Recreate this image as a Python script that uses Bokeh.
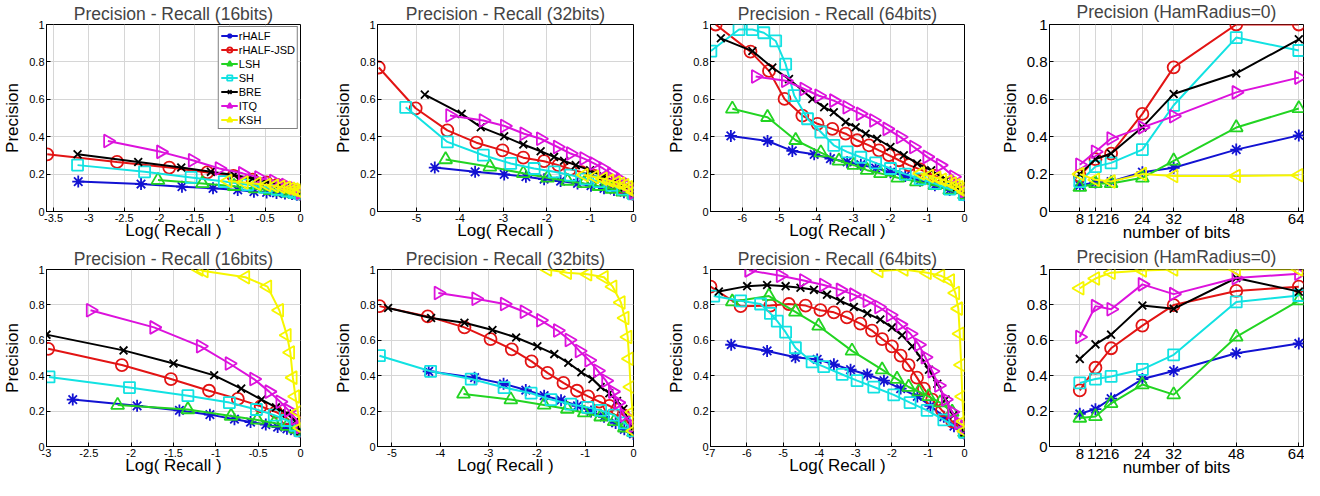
import math
from bokeh.plotting import figure
from bokeh.models import Range1d, CustomJSTickFormatter, Legend, LegendItem
from bokeh.layouts import column, row
from bokeh.embed import file_html
from bokeh.resources import INLINE

NAMES = ["rHALF", "rHALF-JSD", "LSH", "SH", "BRE", "ITQ", "KSH"]
BITS = [8, 12, 16, 24, 32, 48, 64]
PR_YTICKS = [0, 0.2, 0.4, 0.6, 0.8, 1]

# ---------- top row, 16 bits ----------
a16_rhalf_x = [-3.15, -2.26, -1.68, -1.24, -0.89, -0.66, -0.48, -0.34, -0.22, -0.12, -0.05, 0]
a16_rhalf_y = [0.16, 0.147, 0.133, 0.124, 0.115, 0.106, 0.102, 0.099, 0.096, 0.093, 0.09, 0.088]
a16_jsd_x = [-3.59, -2.60, -1.86, -1.32, -0.95, -0.68, -0.48, -0.33, -0.21, -0.11, -0.04, 0]
a16_jsd_y = [0.306, 0.265, 0.235, 0.209, 0.19, 0.17, 0.155, 0.142, 0.128, 0.115, 0.103, 0.095]
a16_lsh_x = [-2.02, -1.39, -0.94, -0.64, -0.43, -0.28, -0.17, -0.08, 0]
a16_lsh_y = [0.168, 0.15, 0.135, 0.122, 0.113, 0.106, 0.1, 0.095, 0.09]
a16_sh_x = [-3.16, -2.21, -1.55, -1.08, -0.75, -0.51, -0.33, -0.19, -0.09, 0]
a16_sh_y = [0.248, 0.212, 0.182, 0.16, 0.143, 0.13, 0.119, 0.11, 0.102, 0.095]
a16_bre_x = [-3.16, -2.30, -1.69, -1.27, -0.94, -0.68, -0.48, -0.32, -0.2, -0.1, 0]
a16_bre_y = [0.306, 0.265, 0.235, 0.212, 0.195, 0.177, 0.16, 0.145, 0.13, 0.115, 0.1]
a16_itq_x = [-2.73, -1.98, -1.53, -1.15, -0.82, -0.59, -0.38, -0.21, -0.09, 0]
a16_itq_y = [0.377, 0.319, 0.274, 0.23, 0.204, 0.182, 0.163, 0.142, 0.124, 0.1]
a16_ksh_x = [-1.03, -0.80, -0.62, -0.48, -0.37, -0.28, -0.2, -0.14, -0.09, -0.05, -0.02, 0]
a16_ksh_y = [0.163, 0.155, 0.148, 0.142, 0.137, 0.132, 0.127, 0.122, 0.117, 0.112, 0.108, 0.104]

# ---------- top row, 32 bits ----------
a32_rhalf_x = [-4.58, -3.65, -2.98, -2.48, -2.06, -1.68, -1.29, -0.98, -0.68, -0.45, -0.22, 0]
a32_rhalf_y = [0.235, 0.212, 0.198, 0.186, 0.173, 0.163, 0.15, 0.138, 0.124, 0.115, 0.103, 0.088]
a32_jsd_x = [-5.87, -5.02, -4.29, -3.62, -3.02, -2.54, -2.06, -1.73, -1.46, -1.2, -0.9, -0.6, -0.3, 0]
a32_jsd_y = [0.77, 0.552, 0.434, 0.368, 0.327, 0.288, 0.269, 0.248, 0.227, 0.21, 0.19, 0.162, 0.13, 0.095]
a32_lsh_x = [-4.33, -3.31, -2.54, -1.98, -1.52, -1.14, -0.8, -0.5, -0.25, 0]
a32_lsh_y = [0.278, 0.239, 0.204, 0.18, 0.163, 0.15, 0.135, 0.12, 0.105, 0.09]
a32_sh_x = [-5.25, -4.29, -3.46, -2.83, -2.29, -1.83, -1.45, -1.1, -0.8, -0.5, -0.25, 0]
a32_sh_y = [0.557, 0.372, 0.301, 0.257, 0.23, 0.212, 0.195, 0.175, 0.16, 0.14, 0.12, 0.095]
a32_bre_x = [-4.81, -3.96, -3.52, -2.98, -2.54, -2.14, -1.83, -1.6, -1.33, -1.0, -0.7, -0.4, -0.2, 0]
a32_bre_y = [0.625, 0.522, 0.451, 0.402, 0.358, 0.322, 0.292, 0.271, 0.248, 0.22, 0.19, 0.16, 0.13, 0.1]
a32_itq_x = [-4.23, -3.46, -2.97, -2.52, -2.14, -1.75, -1.45, -1.14, -0.91, -0.7, -0.5, -0.3, -0.15, 0]
a32_itq_y = [0.513, 0.487, 0.457, 0.416, 0.389, 0.345, 0.31, 0.283, 0.257, 0.23, 0.2, 0.17, 0.14, 0.1]
a32_ksh_x = [-1.14, -0.9, -0.7, -0.55, -0.4, -0.3, -0.2, -0.12, -0.06, 0]
a32_ksh_y = [0.195, 0.185, 0.175, 0.165, 0.155, 0.148, 0.14, 0.13, 0.12, 0.105]

# ---------- top row, 64 bits ----------
a64_rhalf_x = [-6.31, -5.32, -4.65, -4.06, -3.62, -3.17, -2.8, -2.4, -2.0, -1.6, -1.2, -0.8, -0.4, 0]
a64_rhalf_y = [0.404, 0.377, 0.324, 0.306, 0.283, 0.265, 0.25, 0.232, 0.21, 0.19, 0.165, 0.14, 0.115, 0.085]
a64_jsd_x = [-6.72, -5.78, -5.28, -4.86, -4.38, -3.97, -3.57, -3.21, -2.9, -2.58, -2.31, -2.04, -1.77, -1.5, -1.2, -0.8, -0.4, 0]
a64_jsd_y = [1.0, 0.855, 0.752, 0.602, 0.513, 0.469, 0.442, 0.416, 0.381, 0.354, 0.327, 0.301, 0.274, 0.248, 0.225, 0.19, 0.15, 0.1]
a64_lsh_x = [-6.27, -5.32, -4.56, -3.88, -3.39, -2.99, -2.63, -2.27, -1.8, -1.3, -0.8, -0.4, 0]
a64_lsh_y = [0.549, 0.504, 0.381, 0.315, 0.271, 0.248, 0.221, 0.204, 0.18, 0.16, 0.14, 0.115, 0.09]
a64_sh_x = [-6.85, -6.09, -5.73, -5.42, -5.1, -4.83, -4.6, -4.24, -3.88, -3.53, -3.17, -2.8, -2.4, -2.0, -1.6, -1.2, -0.8, -0.4, 0]
a64_sh_y = [0.858, 0.973, 0.973, 0.956, 0.912, 0.788, 0.62, 0.496, 0.425, 0.354, 0.319, 0.29, 0.26, 0.23, 0.2, 0.175, 0.15, 0.12, 0.09]
a64_bre_x = [-6.58, -5.73, -5.19, -4.74, -4.11, -3.79, -3.53, -3.21, -2.94, -2.67, -2.36, -2.0, -1.64, -1.28, -0.9, -0.5, -0.2, 0]
a64_bre_y = [0.926, 0.858, 0.77, 0.708, 0.602, 0.557, 0.531, 0.478, 0.451, 0.416, 0.389, 0.345, 0.301, 0.257, 0.22, 0.17, 0.13, 0.1]
a64_itq_x = [-5.64, -4.83, -4.33, -3.93, -3.53, -3.17, -2.81, -2.45, -2.09, -1.73, -1.37, -1.01, -0.65, -0.29, 0]
a64_itq_y = [0.722, 0.699, 0.655, 0.619, 0.593, 0.557, 0.522, 0.487, 0.442, 0.398, 0.345, 0.292, 0.248, 0.186, 0.11]
a64_ksh_x = [-1.19, -0.95, -0.75, -0.6, -0.45, -0.33, -0.23, -0.15, -0.08, 0]
a64_ksh_y = [0.204, 0.19, 0.18, 0.17, 0.16, 0.15, 0.14, 0.13, 0.12, 0.105]

# ---------- top row, precision at Hamming radius 0 ----------
ah_rhalf = [0.14, 0.155, 0.16, 0.21, 0.234, 0.331, 0.407]
ah_jsd = [0.19, 0.28, 0.31, 0.522, 0.771, 1.0, 1.0]
ah_lsh = [0.13, 0.15, 0.15, 0.18, 0.271, 0.449, 0.551]
ah_sh = [0.16, 0.24, 0.26, 0.331, 0.568, 0.93, 0.861]
ah_bre = [0.2, 0.28, 0.31, 0.45, 0.628, 0.738, 0.921]
ah_itq = [0.25, 0.32, 0.39, 0.45, 0.509, 0.637, 0.716]
ah_ksh = [0.2, 0.17, 0.16, 0.2, 0.19, 0.19, 0.194]

# ---------- bottom row, 16 bits ----------
b16_rhalf_x = [-2.69, -1.93, -1.43, -1.07, -0.78, -0.59, -0.41, -0.27, -0.16, -0.07, 0]
b16_rhalf_y = [0.265, 0.23, 0.204, 0.18, 0.154, 0.138, 0.124, 0.11, 0.1, 0.09, 0.08]
b16_jsd_x = [-2.98, -2.11, -1.53, -1.08, -0.74, -0.47, -0.29, -0.16, -0.06, 0]
b16_jsd_y = [0.552, 0.46, 0.381, 0.315, 0.269, 0.227, 0.195, 0.159, 0.124, 0.088]
b16_lsh_x = [-2.16, -1.33, -0.82, -0.51, -0.31, -0.16, -0.06, 0]
b16_lsh_y = [0.234, 0.209, 0.172, 0.15, 0.133, 0.115, 0.1, 0.088]
b16_sh_x = [-2.97, -2.02, -1.33, -0.84, -0.52, -0.31, -0.16, -0.06, 0]
b16_sh_y = [0.393, 0.333, 0.287, 0.248, 0.209, 0.177, 0.147, 0.12, 0.088]
b16_bre_x = [-3.0, -2.09, -1.5, -1.02, -0.7, -0.46, -0.29, -0.16, -0.06, 0]
b16_bre_y = [0.632, 0.543, 0.469, 0.402, 0.327, 0.265, 0.221, 0.186, 0.142, 0.088]
b16_itq_x = [-2.48, -1.73, -1.18, -0.84, -0.55, -0.37, -0.24, -0.14, -0.06, 0]
b16_itq_y = [0.77, 0.673, 0.566, 0.469, 0.381, 0.31, 0.253, 0.204, 0.159, 0.11]
b16_ksh_x = [-1.2, -1.14, -0.65, -0.39, -0.25, -0.16, -0.12, -0.09, -0.06, -0.03, 0]
b16_ksh_y = [1.0, 0.991, 0.956, 0.903, 0.77, 0.628, 0.531, 0.389, 0.283, 0.195, 0.106]

# ---------- bottom row, 32 bits ----------
b32_rhalf_x = [-4.24, -3.29, -2.69, -2.23, -1.85, -1.5, -1.16, -0.88, -0.61, -0.37, -0.19, 0]
b32_rhalf_y = [0.425, 0.389, 0.354, 0.319, 0.287, 0.262, 0.23, 0.198, 0.168, 0.133, 0.097, 0.071]
b32_jsd_x = [-5.26, -4.26, -3.5, -2.96, -2.52, -2.11, -1.78, -1.45, -1.17, -0.94, -0.71, -0.5, -0.34, -0.21, 0]
b32_jsd_y = [0.793, 0.735, 0.673, 0.607, 0.549, 0.481, 0.416, 0.359, 0.315, 0.283, 0.253, 0.23, 0.209, 0.177, 0.088]
b32_lsh_x = [-3.52, -2.54, -1.85, -1.37, -1.02, -0.68, -0.4, -0.19, 0]
b32_lsh_y = [0.297, 0.265, 0.235, 0.212, 0.191, 0.168, 0.142, 0.106, 0.08]
b32_sh_x = [-5.26, -4.2, -3.36, -2.68, -2.12, -1.71, -1.3, -0.95, -0.68, -0.4, -0.19, 0]
b32_sh_y = [0.513, 0.425, 0.381, 0.333, 0.301, 0.265, 0.239, 0.221, 0.204, 0.177, 0.133, 0.088]
b32_bre_x = [-5.08, -4.19, -3.5, -2.92, -2.43, -1.99, -1.64, -1.35, -1.08, -0.85, -0.68, -0.5, -0.34, -0.21, 0]
b32_bre_y = [0.782, 0.726, 0.699, 0.658, 0.616, 0.566, 0.522, 0.473, 0.419, 0.381, 0.336, 0.301, 0.257, 0.212, 0.088]
b32_itq_x = [-4.04, -3.26, -2.67, -2.26, -1.92, -1.57, -1.33, -1.12, -0.92, -0.74, -0.57, -0.43, -0.32, -0.19, 0]
b32_itq_y = [0.867, 0.835, 0.805, 0.761, 0.713, 0.655, 0.602, 0.54, 0.487, 0.428, 0.372, 0.31, 0.248, 0.177, 0.115]
b32_ksh_x = [-1.78, -1.37, -0.95, -0.61, -0.43, -0.26, -0.18, -0.12, -0.09, -0.06, -0.02, 0]
b32_ksh_y = [1.0, 0.982, 0.973, 0.956, 0.903, 0.814, 0.726, 0.619, 0.496, 0.336, 0.195, 0.088]

# ---------- bottom row, 64 bits ----------
b64_rhalf_x = [-6.43, -5.44, -4.66, -4.06, -3.6, -3.14, -2.68, -2.22, -1.76, -1.3, -0.94, -0.57, -0.29, 0]
b64_rhalf_y = [0.575, 0.54, 0.504, 0.492, 0.464, 0.434, 0.407, 0.372, 0.327, 0.283, 0.23, 0.168, 0.115, 0.071]
b64_jsd_x = [-7.0, -6.17, -5.35, -4.84, -4.38, -3.97, -3.6, -3.24, -2.87, -2.55, -2.27, -2.0, -1.76, -1.54, -1.31, -1.12, -0.89, -0.62, -0.34, 0]
b64_jsd_y = [0.903, 0.793, 0.796, 0.805, 0.796, 0.77, 0.758, 0.729, 0.694, 0.655, 0.607, 0.566, 0.513, 0.46, 0.389, 0.327, 0.265, 0.204, 0.142, 0.08]
b64_lsh_x = [-6.4, -5.39, -4.66, -4.02, -3.1, -2.27, -1.86, -1.54, -1.26, -0.99, -0.67, -0.34, 0]
b64_lsh_y = [0.818, 0.85, 0.761, 0.681, 0.54, 0.434, 0.381, 0.336, 0.31, 0.283, 0.248, 0.195, 0.08]
b64_sh_x = [-6.91, -6.17, -5.62, -5.35, -5.16, -4.93, -4.66, -4.2, -3.88, -3.37, -2.96, -2.5, -1.95, -1.5, -1.03, -0.57, 0]
b64_sh_y = [0.85, 0.823, 0.805, 0.752, 0.708, 0.646, 0.558, 0.478, 0.451, 0.407, 0.372, 0.336, 0.292, 0.248, 0.204, 0.15, 0.08]
b64_bre_x = [-6.77, -5.99, -5.44, -4.93, -4.52, -4.15, -3.79, -3.42, -3.05, -2.68, -2.32, -2.0, -1.72, -1.44, -1.21, -0.98, -0.75, -0.52, -0.3, 0]
b64_bre_y = [0.876, 0.906, 0.912, 0.906, 0.897, 0.885, 0.858, 0.823, 0.788, 0.752, 0.717, 0.673, 0.628, 0.566, 0.504, 0.434, 0.354, 0.265, 0.177, 0.08]
b64_itq_x = [-5.94, -5.07, -4.43, -3.88, -3.42, -3.05, -2.68, -2.36, -2.04, -1.77, -1.49, -1.26, -1.08, -0.89, -0.71, -0.52, -0.34, -0.16, 0]
b64_itq_y = [0.995, 0.965, 0.938, 0.912, 0.885, 0.858, 0.823, 0.788, 0.743, 0.69, 0.637, 0.575, 0.504, 0.425, 0.345, 0.265, 0.195, 0.133, 0.106]
b64_ksh_x = [-2.36, -1.67, -1.03, -0.66, -0.39, -0.25, -0.17, -0.13, -0.09, -0.06, -0.02, 0]
b64_ksh_y = [0.991, 1.0, 0.982, 0.965, 0.938, 0.867, 0.779, 0.637, 0.46, 0.283, 0.142, 0.088]

# ---------- bottom row, precision at Hamming radius 0 ----------
bh_rhalf = [0.185, 0.211, 0.271, 0.381, 0.427, 0.527, 0.582]
bh_jsd = [0.317, 0.445, 0.555, 0.683, 0.799, 0.879, 0.903]
bh_lsh = [0.161, 0.17, 0.244, 0.35, 0.293, 0.619, 0.824]
bh_sh = [0.359, 0.381, 0.396, 0.436, 0.518, 0.817, 0.853]
bh_bre = [0.495, 0.577, 0.632, 0.797, 0.778, 0.952, 0.875]
bh_itq = [0.619, 0.793, 0.775, 0.916, 0.861, 0.952, 0.976]
bh_ksh = [0.894, 0.949, 0.982, 0.995, 1.0, 1.0, 1.0]

# ---------- styles ----------
COLORS = ["#1212d2", "#e21414", "#22d422", "#12e2e2", "#000000", "#dc12dc", "#f6f600"]
MARKERS = ["asterisk", "circle", "triangle", "square", "x", "triangle", "triangle"]
ANGLES = [0, 0, 0, 0, 0, -math.pi / 2, math.pi / 2]
MSIZES = [12, 12, 13, 11, 11, 13, 13]
FONT = "Liberation Sans"

fmt = CustomJSTickFormatter(code="return (Math.round(tick*100)/100).toString();")


def make_fig(title, width, left, right, height, top, title_gap, bottom, xr, xticks, tick_fs, xlabel):
    p = figure(width=width, height=height, output_backend="svg", toolbar_location=None,
               tools="", x_range=Range1d(*xr), y_range=Range1d(0, 1),
               min_border_left=left, min_border_right=right,
               min_border_top=top, min_border_bottom=bottom, title=title)
    p.title.text_font = FONT
    p.title.text_font_size = "17.5px"
    p.title.text_font_style = "normal"
    p.title.text_line_height = 1.0
    p.title.align = "center"
    p.title.vertical_align = "top"
    p.title.standoff = title_gap
    p.outline_line_color = "black"
    p.outline_line_width = 1
    p.outline_line_alpha = 1
    p.background_fill_color = "white"
    p.border_fill_color = "white"
    p.xaxis.ticker = xticks
    p.yaxis.ticker = PR_YTICKS
    for ax in (p.xaxis[0], p.yaxis[0]):
        ax.formatter = fmt
        ax.major_tick_in = 4
        ax.major_tick_out = 0
        ax.minor_tick_in = 0
        ax.minor_tick_out = 0
        ax.major_tick_line_color = "black"
        ax.axis_line_color = "black"
        ax.major_label_text_font = FONT
        ax.major_label_text_font_size = tick_fs
        ax.major_label_text_color = "black"
        ax.major_label_standoff = 2
        ax.axis_label_text_font = FONT
        ax.axis_label_text_font_size = "17px"
        ax.axis_label_text_font_style = "normal"
        ax.axis_label_text_color = "black"
    p.xaxis.axis_label = xlabel
    p.xaxis.axis_label_standoff = -4
    p.yaxis.axis_label = "Precision"
    p.yaxis.axis_label_standoff = 4
    p.grid.grid_line_color = "#d6d6d6"
    p.grid.grid_line_width = 1
    return p


def draw(p, series):
    items = []
    for i, (xs, ys) in enumerate(series):
        lr = p.line(xs, ys, line_color=COLORS[i], line_width=2)
        sr = p.scatter(xs, ys, marker=MARKERS[i], size=MSIZES[i], angle=ANGLES[i],
                       line_color=COLORS[i], fill_color=None, line_width=1.8)
        items.append(LegendItem(label=NAMES[i], renderers=[lr, sr]))
    return items


COLS = [  # width, left border, right border
    (330, 45, 30),
    (330, 47, 27),
    (330, 50, 26),
    (314, 59, 1),
]
H1, H2 = 245, 235

PR_X16T = [-3.5, -3, -2.5, -2, -1.5, -1, -0.5, 0]
PR_X32T = [-5, -4, -3, -2, -1, 0]
PR_X64T = [-6, -5, -4, -3, -2, -1, 0]
PR_X16B = [-3, -2.5, -2, -1.5, -1, -0.5, 0]
PR_X32B = [-5, -4, -3, -2, -1, 0]
PR_X64B = [-7, -6, -5, -4, -3, -2, -1, 0]

XL = "Log( Recall )"
BL = "number of bits"
TG = -3
TG4 = 2
p1 = make_fig("Precision - Recall (16bits)", *COLS[0], H1, 21, TG, 30, (-3.6, 0), PR_X16T, "11px", XL)
p2 = make_fig("Precision - Recall (32bits)", *COLS[1], H1, 21, TG, 30, (-5.9, 0), PR_X32T, "11px", XL)
p3 = make_fig("Precision - Recall (64bits)", *COLS[2], H1, 21, TG, 30, (-6.86, 0), PR_X64T, "11px", XL)
p4 = make_fig("Precision (HamRadius=0)", *COLS[3], H1, 24, TG4, 34, (0.25, 65.2), BITS, "15px", BL)
p5 = make_fig("Precision - Recall (16bits)", *COLS[0], H2, 21, TG, 30, (-3.0, 0), PR_X16B, "11px", XL)
p6 = make_fig("Precision - Recall (32bits)", *COLS[1], H2, 21, TG, 30, (-5.3, 0), PR_X32B, "11px", XL)
p7 = make_fig("Precision - Recall (64bits)", *COLS[2], H2, 21, TG, 30, (-7.0, 0), PR_X64B, "11px", XL)
p8 = make_fig("Precision (HamRadius=0)", *COLS[3], H2, 24, TG4, 34, (0.25, 65.2), BITS, "15px", BL)

legend_items = draw(p1, [(a16_rhalf_x, a16_rhalf_y), (a16_jsd_x, a16_jsd_y), (a16_lsh_x, a16_lsh_y),
                         (a16_sh_x, a16_sh_y), (a16_bre_x, a16_bre_y), (a16_itq_x, a16_itq_y),
                         (a16_ksh_x, a16_ksh_y)])
draw(p2, [(a32_rhalf_x, a32_rhalf_y), (a32_jsd_x, a32_jsd_y), (a32_lsh_x, a32_lsh_y),
          (a32_sh_x, a32_sh_y), (a32_bre_x, a32_bre_y), (a32_itq_x, a32_itq_y),
          (a32_ksh_x, a32_ksh_y)])
draw(p3, [(a64_rhalf_x, a64_rhalf_y), (a64_jsd_x, a64_jsd_y), (a64_lsh_x, a64_lsh_y),
          (a64_sh_x, a64_sh_y), (a64_bre_x, a64_bre_y), (a64_itq_x, a64_itq_y),
          (a64_ksh_x, a64_ksh_y)])
draw(p4, [(BITS, ah_rhalf), (BITS, ah_jsd), (BITS, ah_lsh), (BITS, ah_sh),
          (BITS, ah_bre), (BITS, ah_itq), (BITS, ah_ksh)])
draw(p5, [(b16_rhalf_x, b16_rhalf_y), (b16_jsd_x, b16_jsd_y), (b16_lsh_x, b16_lsh_y),
          (b16_sh_x, b16_sh_y), (b16_bre_x, b16_bre_y), (b16_itq_x, b16_itq_y),
          (b16_ksh_x, b16_ksh_y)])
draw(p6, [(b32_rhalf_x, b32_rhalf_y), (b32_jsd_x, b32_jsd_y), (b32_lsh_x, b32_lsh_y),
          (b32_sh_x, b32_sh_y), (b32_bre_x, b32_bre_y), (b32_itq_x, b32_itq_y),
          (b32_ksh_x, b32_ksh_y)])
draw(p7, [(b64_rhalf_x, b64_rhalf_y), (b64_jsd_x, b64_jsd_y), (b64_lsh_x, b64_lsh_y),
          (b64_sh_x, b64_sh_y), (b64_bre_x, b64_bre_y), (b64_itq_x, b64_itq_y),
          (b64_ksh_x, b64_ksh_y)])
draw(p8, [(BITS, bh_rhalf), (BITS, bh_jsd), (BITS, bh_lsh), (BITS, bh_sh),
          (BITS, bh_bre), (BITS, bh_itq), (BITS, bh_ksh)])

legend = Legend(items=legend_items, location="top_right",
                label_text_font=FONT, label_text_font_size="11px", label_text_color="black",
                label_height=13, glyph_height=13, glyph_width=17, spacing=1,
                padding=2, margin=2, label_standoff=1,
                border_line_color="black", border_line_width=1.5,
                background_fill_color="white", background_fill_alpha=1.0)
p1.add_layout(legend)

layout = column(row(p1, p2, p3, p4), row(p5, p6, p7, p8))
open("out.html", "w").write(file_html(layout, INLINE))
